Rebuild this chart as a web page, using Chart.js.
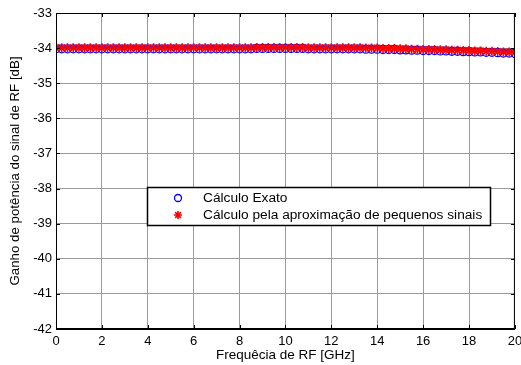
<!DOCTYPE html>
<html>
<head>
<meta charset="utf-8">
<script src="https://cdn.jsdelivr.net/npm/chart.js@4"></script>
<style>
  html, body { margin: 0; padding: 0; background: #fff; }
  #wrap { width: 521px; height: 365px; }
</style>
</head>
<body>
<div id="wrap"><canvas id="grafico" width="521" height="365"></canvas></div>
<script>
// frequencia (GHz)
const frequencias = [
  0, 0.25, 0.5, 0.75, 1, 1.25, 1.5, 1.75, 2, 2.25, 2.5, 2.75, 3, 3.25, 3.5, 3.75,
  4, 4.25, 4.5, 4.75, 5, 5.25, 5.5, 5.75, 6, 6.25, 6.5, 6.75, 7, 7.25, 7.5, 7.75,
  8, 8.25, 8.5, 8.75, 9, 9.25, 9.5, 9.75, 10, 10.25, 10.5, 10.75, 11, 11.25, 11.5, 11.75,
  12, 12.25, 12.5, 12.75, 13, 13.25, 13.5, 13.75, 14, 14.25, 14.5, 14.75, 15, 15.25, 15.5, 15.75,
  16, 16.25, 16.5, 16.75, 17, 17.25, 17.5, 17.75, 18, 18.25, 18.5, 18.75, 19, 19.25, 19.5, 19.75, 20
];

// ganho - calculo exato (dB)
const ganhoExato = [
  -34.02, -34.02, -34.02, -34.02, -34.02, -34.02, -34.02, -34.02, -34.02, -34.02, -34.02, -34.02, -34.02, -34.02, -34.02, -34.02,
  -34.02, -34.02, -34.02, -34.02, -34.02, -34.02, -34.02, -34.02, -34.02, -34.02, -34.02, -34.02, -34.02, -34.02, -34.02, -34.02,
  -34.02, -34.02, -34.02, -34.01, -34.01, -34.01, -34.01, -34.01, -34.01, -34.01, -34.01, -34.01, -34.02, -34.02, -34.02, -34.02,
  -34.02, -34.02, -34.02, -34.02, -34.02, -34.02, -34.03, -34.03, -34.03, -34.04, -34.04, -34.04, -34.05, -34.05, -34.06, -34.06,
  -34.07, -34.07, -34.07, -34.08, -34.08, -34.09, -34.09, -34.10, -34.10, -34.11, -34.11, -34.12, -34.12, -34.13, -34.14, -34.14, -34.15
];

// ganho - aproximacao de pequenos sinais (dB)
const ganhoAprox = [
  -33.99, -33.99, -33.99, -33.99, -33.99, -33.99, -33.99, -33.99, -33.99, -33.99, -33.99, -33.99, -33.99, -33.99, -33.99, -33.99,
  -33.99, -33.99, -33.99, -33.99, -33.99, -33.99, -33.99, -33.99, -33.99, -33.99, -33.99, -33.99, -33.99, -33.99, -33.99, -33.99,
  -33.99, -33.99, -33.99, -33.98, -33.98, -33.98, -33.98, -33.98, -33.98, -33.98, -33.98, -33.98, -33.99, -33.99, -33.99, -33.99,
  -33.99, -33.99, -33.99, -33.99, -33.99, -33.99, -34.00, -34.00, -34.00, -34.01, -34.01, -34.01, -34.02, -34.02, -34.03, -34.03,
  -34.04, -34.04, -34.04, -34.05, -34.05, -34.06, -34.06, -34.07, -34.07, -34.08, -34.08, -34.09, -34.09, -34.10, -34.11, -34.11, -34.12
];

const ticksX = [0, 2, 4, 6, 8, 10, 12, 14, 16, 18, 20];
const ticksY = [-42, -41, -40, -39, -38, -37, -36, -35, -34, -33];

const fonte = 'Liberation Sans, Arial, sans-serif';

const pontos = (ys) => frequencias.map((f, i) => ({ x: f, y: ys[i] }));

// caixa dos eixos + marcas internas + legenda
const caixaPlugin = {
  id: 'caixa',
  afterDraw(chart) {
    const c = chart.ctx;
    const a = chart.chartArea;
    const sx = chart.scales.x, sy = chart.scales.y;
    c.save();
    c.strokeStyle = '#000';
    c.lineWidth = 1;
    c.strokeRect(a.left + 0.5, a.top + 0.5, a.right - a.left - 1, a.bottom - a.top - 1);
    c.beginPath();
    ticksX.forEach(v => {
      const px = Math.round(sx.getPixelForValue(v)) + 0.5;
      c.moveTo(px, a.bottom); c.lineTo(px, a.bottom - 4);
      c.moveTo(px, a.top); c.lineTo(px, a.top + 4);
    });
    ticksY.forEach(v => {
      const py = Math.round(sy.getPixelForValue(v)) + 0.5;
      c.moveTo(a.left, py); c.lineTo(a.left + 4, py);
      c.moveTo(a.right, py); c.lineTo(a.right - 4, py);
    });
    c.stroke();

    // legenda
    const lx = 147, ly = 187, lw = 343, lh = 38;
    c.fillStyle = '#fff';
    c.fillRect(lx, ly, lw, lh);
    c.lineWidth = 1.5;
    c.strokeRect(lx + 0.5, ly + 0.5, lw, lh);
    c.font = '13.7px ' + fonte;
    c.textBaseline = 'middle';
    chart.data.datasets.forEach((ds, i) => {
      const yy = ly + 11 + i * 17;
      c.strokeStyle = ds.borderColor;
      c.fillStyle = 'rgba(0,0,0,0)';
      c.lineWidth = ds.borderWidth;
      Chart.helpers.drawPoint(c, { pointStyle: ds.pointStyle, radius: ds.pointRadius - 0.5, rotation: 0, borderWidth: ds.borderWidth }, 178, yy);
      c.fillStyle = '#000';
      c.fillText(ds.label, 203, yy + 0.5);
    });
    c.restore();
  }
};

const ctx = document.getElementById('grafico').getContext('2d');

const grafico = new Chart(ctx, {
  type: 'scatter',
  data: {
    datasets: [
      {
        label: 'Cálculo Exato',
        data: pontos(ganhoExato),
        pointStyle: 'circle',
        pointRadius: 4,
        borderColor: '#0000ff',
        backgroundColor: 'rgba(0,0,0,0)',
        borderWidth: 1.3,
        showLine: false,
        order: 2
      },
      {
        label: 'Cálculo pela aproximação de pequenos sinais',
        data: pontos(ganhoAprox),
        pointStyle: 'star',
        pointRadius: 4.5,
        borderColor: '#ff0000',
        backgroundColor: '#ff0000',
        borderWidth: 1.6,
        showLine: false,
        order: 1
      }
    ]
  },
  options: {
    responsive: false,
    animation: false,
    layout: { padding: { top: 13, right: 1, left: 0, bottom: 0 } },
    plugins: {
      legend: { display: false },
      tooltip: { enabled: false }
    },
    scales: {
      x: {
        type: 'linear',
        min: 0,
        max: 20,
        afterBuildTicks: (s) => { s.ticks = ticksX.map(v => ({ value: v })); },
        afterFit: (s) => { s.height = 36; s.paddingLeft = 0; s.paddingRight = 0; },
        grid: { color: '#9a9a9a', drawTicks: false, lineWidth: 1 },
        border: { display: true, color: '#000' },
        ticks: { color: '#000', font: { family: fonte, size: 13 }, padding: 5, maxRotation: 0 },
        title: { display: true, text: 'Frequêcia de RF [GHz]', color: '#000', font: { family: fonte, size: 13.5 }, padding: { top: 0, bottom: 2 } }
      },
      y: {
        min: -42,
        max: -33,
        afterBuildTicks: (s) => { s.ticks = ticksY.map(v => ({ value: v })); },
        afterFit: (s) => { s.width = 56; },
        grid: { color: '#9a9a9a', drawTicks: false, lineWidth: 1 },
        border: { display: true, color: '#000' },
        ticks: { color: '#000', font: { family: fonte, size: 13 }, padding: 4 },
        title: { display: true, text: 'Ganho de potência do sinal de RF [dB]', color: '#000', font: { family: fonte, size: 13.3 }, padding: { top: 7, bottom: 0 } }
      }
    }
  },
  plugins: [caixaPlugin]
});
</script>
</body>
</html>
